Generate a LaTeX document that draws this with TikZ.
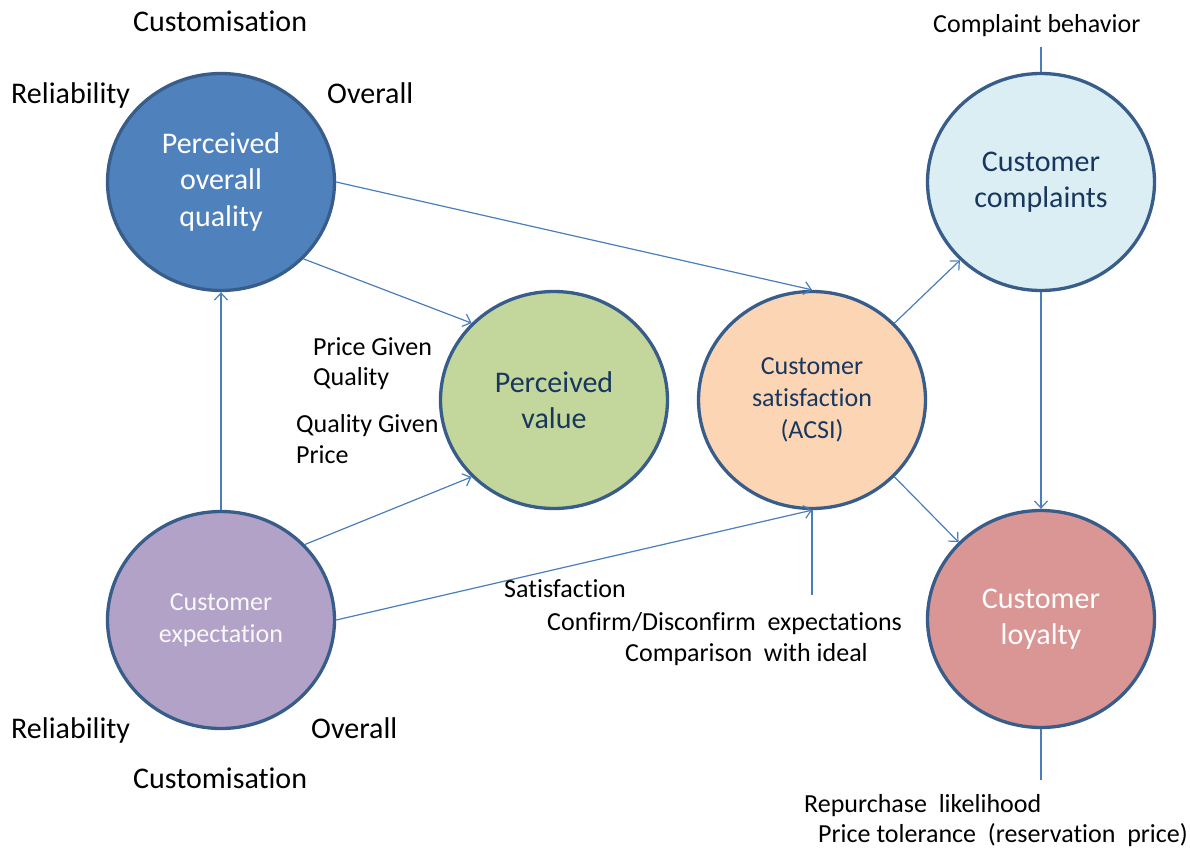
\documentclass[tikz,border=0pt]{standalone}
\usepackage{fontspec}
\setmainfont{Carlito}[Ligatures={NoCommon,NoContextual},RawFeature={-calt}]
\usetikzlibrary{arrows.meta,shapes.geometric}

\definecolor{rim}{HTML}{385D8A}
\definecolor{wire}{HTML}{4A7EBB}
\definecolor{navy}{HTML}{17375E}
\definecolor{fillPQ}{HTML}{4F81BD}
\definecolor{fillPV}{HTML}{C3D69B}
\definecolor{fillCS}{HTML}{FCD5B5}
\definecolor{fillCC}{HTML}{DBEEF4}
\definecolor{fillCL}{HTML}{D99694}
\definecolor{fillCE}{HTML}{B3A2C7}

\begin{document}
\begin{tikzpicture}[x=1pt,y=-1pt,
  factor/.style={ellipse, draw=rim, line width=3.3pt, minimum width=227pt,
    minimum height=217pt, inner sep=0pt, align=center},
  link/.style={draw=wire, line width=1.2pt, -{Straight Barb[length=7pt,width=13pt]}},
  tie/.style={draw=wire, line width=1.2pt},
  big/.style={font=\fontsize{30}{36.6}\selectfont},
  small/.style={font=\fontsize{26}{31.7}\selectfont},
  note/.style={inner sep=0pt, text=black, anchor=base west}]

\useasboundingbox (0,0) rectangle (1190,850);

% the six constructs
\node[factor, fill=fillPQ, text=white, big] (PQ) at (221,182) {Perceived\\overall\\quality};
\node[factor, fill=fillPV, text=navy, big] (PV) at (554,400) {Perceived\\value};
\node[factor, fill=fillCS, text=navy, small] (CS) at (812,400) {Customer\\satisfaction\\(ACSI)};
\node[factor, fill=fillCC, text=navy, big] (CC) at (1041,182) {Customer\\complaints};
\node[factor, fill=fillCL, text=white, big] (CL) at (1041,619) {Customer\\loyalty};
\node[factor, fill=fillCE, text=white!92!fillCE, small] (CE) at (221,620) {Customer\\expectation};

% free ends of the indicator stubs
\coordinate (cbTop) at (1041,47);
\coordinate (satFoot) at (812,595);
\coordinate (loyFoot) at (1041,780);

% causal paths
\draw[link] (CE.90) -- (PQ.-90);
\draw[link] (PQ.-43) -- (PV.137);
\draw[link] (PQ.0) -- (CS.90);
\draw[link] (CE.42) -- (PV.-137);
\draw[link] (CE.0) -- (CS.-90);
\draw[link] (CS.43) -- (CC.-136);
\draw[link] (CS.-43) -- (CL.137);
\draw[link] (CC.-90) -- (CL.90);

% indicator stubs
\draw[tie] (CC.90) -- (cbTop);
\draw[tie] (CS.-90) -- (satFoot);
\draw[tie] (CL.-90) -- (loyFoot);

% indicators of perceived quality
\node[note, big] (pqCust) at (133,32) {Customisation};
\node[note, big] (pqRel) at (11,104) {Reliability};
\node[note, big] (pqOver) at (327,104) {Overall};

% indicators of customer expectation
\node[note, big] (ceRel) at (11,738) {Reliability};
\node[note, big] (ceOver) at (311,738) {Overall};
\node[note, big] (ceCust) at (133,788) {Customisation};

% indicators of perceived value
\node[note, small] (pvA1) at (313,355) {Price Given};
\node[note, small] (pvA2) at (313,385) {Quality};
\node[note, small] (pvB1) at (296,432) {Quality Given};
\node[note, small] (pvB2) at (296,463) {Price};

% indicators of satisfaction
\node[note, small] (csA) at (504,597) {Satisfaction};
\node[note, small] (csB) at (547,630) {Confirm/Disconfirm\ \ expectations};
\node[note, small] (csC) at (625,661) {Comparison\ \ with ideal};

% indicator of complaints
\node[note, small] (ccA) at (933,33) {Complaint behavior};

% indicators of loyalty
\node[note, small] (clA) at (804,812) {Repurchase\ \ likelihood};
\node[note, small] (clB) at (818,842) {Price tolerance\ \ (reservation\ \ price)};

\end{tikzpicture}
\end{document}
